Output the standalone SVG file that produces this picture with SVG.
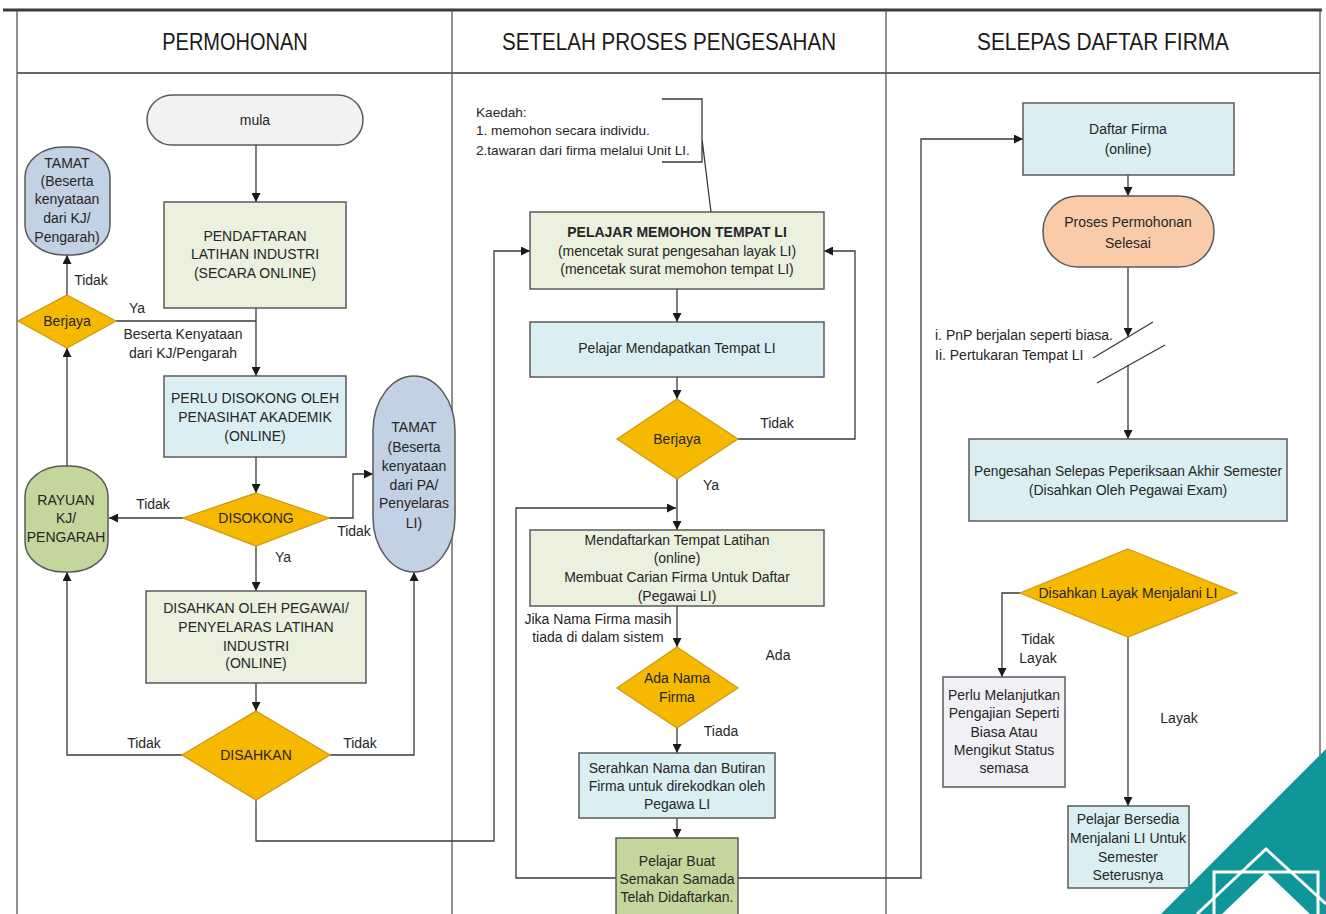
<svg xmlns="http://www.w3.org/2000/svg" width="1326" height="914" viewBox="0 0 1326 914">
<style>
.t{font-family:"Liberation Sans",Arial,sans-serif;font-size:14px;fill:#262626;text-anchor:middle}
.s{font-size:13.6px}
.lft{text-anchor:start}
.b{font-weight:bold}
.h{font-family:"Liberation Sans",Arial,sans-serif;font-size:20px;fill:#1a1a1a;text-anchor:middle}
.c{fill:none;stroke:#3a3a3a;stroke-width:1.3}
.ca{fill:none;stroke:#3a3a3a;stroke-width:1.3;marker-end:url(#ar)}
.bx{stroke:#5a5a5a;stroke-width:1.5}
.g1{fill:#ebf1de}
.bl{fill:#daeef3}
.tm{fill:#c2d1e3}
.gr{fill:#c3d69b}
.dm{fill:#f7b800;stroke:#c99a10;stroke-width:1.2}
.frame{stroke:#555;stroke-width:1.3;fill:none}
</style>
<defs>
<marker id="ar" viewBox="0 0 10 10" refX="10" refY="5" markerWidth="9" markerHeight="9" markerUnits="userSpaceOnUse" orient="auto">
<path d="M0,0 L10,5 L0,10 z" fill="#1a1a1a"/>
</marker>
</defs>
<rect width="1326" height="914" fill="#ffffff"/>
<g id="frame">
<line x1="3" y1="10" x2="1322" y2="10" stroke="#3a3a3a" stroke-width="3"/>
<line x1="17" y1="73" x2="1320" y2="73" stroke="#666" stroke-width="2"/>
<line class="frame" x1="17" y1="10" x2="17" y2="914"/>
<line class="frame" x1="452" y1="10" x2="452" y2="914"/>
<line class="frame" x1="886" y1="10" x2="886" y2="914"/>
<line class="frame" x1="1320" y1="10" x2="1320" y2="914"/>
<text class="h" transform="translate(235,50) scale(1,1.2)">PERMOHONAN</text>
<text class="h" transform="translate(669,50) scale(1,1.2)" textLength="334" lengthAdjust="spacingAndGlyphs">SETELAH PROSES PENGESAHAN</text>
<text class="h" transform="translate(1103,50) scale(1,1.2)" textLength="252" lengthAdjust="spacingAndGlyphs">SELEPAS DAFTAR FIRMA</text>
</g>
<g id="connectors">
<path class="ca" d="M256,145 V202"/>
<path class="ca" d="M256,308 V376"/>
<path class="c" d="M116,321 H256"/>
<path class="ca" d="M67,295 V255"/>
<path class="ca" d="M256,457 V493"/>
<path class="ca" d="M183,518 H109"/>
<path class="ca" d="M329,518 H353 V474 H373"/>
<path class="ca" d="M256,546 V591"/>
<path class="ca" d="M67,466 V348"/>
<path class="ca" d="M256,683 V711"/>
<path class="ca" d="M182,755 H67 V572"/>
<path class="ca" d="M330,755 H414 V572"/>
<path class="ca" d="M256,800 V841 H494 V251 H530"/>
<path class="c" d="M662,99 H702 V162 H662 M702,139 L711,212"/>
<path class="ca" d="M677,289 V322"/>
<path class="ca" d="M677,377 V399"/>
<path class="ca" d="M738,439 H855 V251 H824"/>
<path class="ca" d="M677,479 V530"/>
<path class="ca" d="M677,606 V647"/>
<path class="ca" d="M677,728 V753"/>
<path class="ca" d="M677,818 V838"/>
<path class="ca" d="M616,878 H516 V508 H676"/>
<path class="ca" d="M738,878 H921 V139 H1023"/>
<path class="ca" d="M1128,175 V196"/>
<path class="ca" d="M1128,267 V337"/>
<path class="c" d="M1093,358 L1153,322 M1097,383 L1165,345"/>
<path class="ca" d="M1128,365 V439"/>
<path class="ca" d="M1020,593 H1002 V677"/>
<path class="ca" d="M1128,637 V806"/>
</g>
<g id="mula">
<rect class="bx" x="147" y="95" width="216" height="50" rx="25" fill="#f2f2f2"/>
<text class="t" x="255" y="125">mula</text>
</g>
<g id="pendaftaran">
<rect class="bx g1" x="164" y="202" width="182" height="106"/>
<text class="t"><tspan x="255" y="241">PENDAFTARAN</tspan><tspan x="255" y="259">LATIHAN INDUSTRI</tspan><tspan x="255" y="278">(SECARA ONLINE)</tspan></text>
</g>
<g id="tamat-kj">
<rect class="bx tm" x="25" y="147" width="85" height="108" rx="38" ry="30"/>
<text class="t"><tspan x="67" y="168">TAMAT</tspan><tspan x="67" y="186">(Beserta</tspan><tspan x="67" y="204">kenyataan</tspan><tspan x="67" y="223">dari KJ/</tspan><tspan x="67" y="242">Pengarah)</tspan></text>
</g>
<g id="berjaya1">
<polygon class="dm" points="67,295 116,321 67,348 18,321"/>
<text class="t" x="67" y="326">Berjaya</text>
</g>
<g id="perlu-disokong">
<rect class="bx bl" x="164" y="376" width="182" height="81"/>
<text class="t"><tspan x="255" y="403">PERLU DISOKONG OLEH</tspan><tspan x="255" y="422">PENASIHAT AKADEMIK</tspan><tspan x="255" y="441">(ONLINE)</tspan></text>
</g>
<g id="disokong">
<polygon class="dm" points="256,493 329,518 256,546 183,518"/>
<text class="t" x="256" y="523">DISOKONG</text>
</g>
<g id="rayuan">
<rect class="bx gr" x="25" y="466" width="83" height="106" rx="38" ry="30"/>
<text class="t"><tspan x="66" y="505">RAYUAN</tspan><tspan x="66" y="523">KJ/</tspan><tspan x="66" y="542">PENGARAH</tspan></text>
</g>
<g id="tamat-pa">
<rect class="bx tm" x="373" y="376" width="82" height="196" rx="41" ry="55"/>
<text class="t"><tspan x="414" y="432">TAMAT</tspan><tspan x="414" y="452">(Beserta</tspan><tspan x="414" y="471">kenyataan</tspan><tspan x="414" y="490">dari PA/</tspan><tspan x="414" y="508">Penyelaras</tspan><tspan x="414" y="528">LI)</tspan></text>
</g>
<g id="disahkan-oleh">
<rect class="bx g1" x="146" y="591" width="220" height="92"/>
<text class="t"><tspan x="256" y="613">DISAHKAN OLEH PEGAWAI/</tspan><tspan x="256" y="632">PENYELARAS LATIHAN</tspan><tspan x="256" y="651">INDUSTRI</tspan><tspan x="256" y="668">(ONLINE)</tspan></text>
</g>
<g id="disahkan">
<polygon class="dm" points="256,711 330,755 256,800 182,755"/>
<text class="t" x="256" y="760">DISAHKAN</text>
</g>
<g id="labels-left">
<text class="t" x="91" y="285">Tidak</text>
<text class="t" x="137" y="313">Ya</text>
<text class="t"><tspan x="183" y="339">Beserta Kenyataan</tspan><tspan x="183" y="358">dari KJ/Pengarah</tspan></text>
<text class="t" x="153" y="509">Tidak</text>
<text class="t" x="354" y="536">Tidak</text>
<text class="t" x="283" y="562">Ya</text>
<text class="t" x="144" y="748">Tidak</text>
<text class="t" x="360" y="748">Tidak</text>
</g>
<g id="kaedah">
<text class="t s lft"><tspan x="476" y="117">Kaedah:</tspan><tspan x="476" y="135">1. memohon secara individu.</tspan><tspan x="476" y="155">2.tawaran dari firma melalui Unit LI.</tspan></text>
</g>
<g id="pelajar-memohon">
<rect class="bx g1" x="530" y="212" width="294" height="77"/>
<text class="t"><tspan class="b" x="677" y="237">PELAJAR MEMOHON TEMPAT LI</tspan><tspan x="677" y="256">(mencetak surat pengesahan layak LI)</tspan><tspan x="677" y="274">(mencetak surat memohon tempat LI)</tspan></text>
</g>
<g id="pelajar-mendapatkan">
<rect class="bx bl" x="530" y="322" width="294" height="55"/>
<text class="t" x="677" y="353">Pelajar Mendapatkan Tempat LI</text>
</g>
<g id="berjaya2">
<polygon class="dm" points="677,399 738,439 677,479 617,439"/>
<text class="t" x="677" y="444">Berjaya</text>
</g>
<g id="mendaftarkan">
<rect class="bx g1" x="530" y="530" width="294" height="76"/>
<text class="t"><tspan x="677" y="545">Mendaftarkan Tempat Latihan</tspan><tspan x="677" y="563">(online)</tspan><tspan x="677" y="582">Membuat Carian Firma Untuk Daftar</tspan><tspan x="677" y="601">(Pegawai LI)</tspan></text>
</g>
<g id="ada-nama">
<polygon class="dm" points="677,647 738,688 677,728 617,688"/>
<text class="t"><tspan x="677" y="683">Ada Nama</tspan><tspan x="677" y="702">Firma</tspan></text>
</g>
<g id="serahkan">
<rect class="bx bl" x="579" y="753" width="196" height="65"/>
<text class="t"><tspan x="677" y="773">Serahkan Nama dan Butiran</tspan><tspan x="677" y="791">Firma untuk direkodkan oleh</tspan><tspan x="677" y="809">Pegawa LI</tspan></text>
</g>
<g id="pelajar-buat">
<rect class="bx gr" x="616" y="838" width="122" height="90"/>
<text class="t"><tspan x="677" y="866">Pelajar Buat</tspan><tspan x="677" y="884">Semakan Samada</tspan><tspan x="677" y="902">Telah Didaftarkan.</tspan></text>
</g>
<g id="labels-mid">
<text class="t" x="777" y="428">Tidak</text>
<text class="t" x="711" y="490">Ya</text>
<text class="t"><tspan x="598" y="624">Jika Nama Firma masih</tspan><tspan x="598" y="642">tiada di dalam sistem</tspan></text>
<text class="t" x="778" y="660">Ada</text>
<text class="t" x="721" y="736">Tiada</text>
</g>
<g id="daftar-firma">
<rect class="bx bl" x="1023" y="103" width="211" height="72"/>
<text class="t"><tspan x="1128" y="134">Daftar Firma</tspan><tspan x="1128" y="154">(online)</tspan></text>
</g>
<g id="proses-permohonan">
<rect class="bx" x="1043" y="196" width="171" height="71" rx="35" fill="#f9cba8"/>
<text class="t"><tspan x="1128" y="227">Proses Permohonan</tspan><tspan x="1128" y="248">Selesai</tspan></text>
</g>
<g id="note-pnp">
<text class="t lft"><tspan x="935" y="340">i. PnP berjalan seperti biasa.</tspan><tspan x="935" y="360">Ii. Pertukaran Tempat LI</tspan></text>
</g>
<g id="pengesahan">
<rect class="bx bl" x="969" y="439" width="318" height="82"/>
<text class="t" textLength="308"><tspan x="1128" y="476" textLength="308" lengthAdjust="spacingAndGlyphs">Pengesahan Selepas Peperiksaan Akhir Semester</tspan></text>
<text class="t" x="1128" y="495">(Disahkan Oleh Pegawai Exam)</text>
</g>
<g id="disahkan-layak">
<polygon class="dm" points="1128,549 1237,593 1128,637 1020,593"/>
<text class="t" x="1128" y="598">Disahkan Layak Menjalani LI</text>
</g>
<g id="perlu-melanjutkan">
<rect class="bx" x="943" y="677" width="122" height="110" fill="#f1f0f5"/>
<text class="t"><tspan x="1004" y="700">Perlu Melanjutkan</tspan><tspan x="1004" y="718">Pengajian Seperti</tspan><tspan x="1004" y="737">Biasa Atau</tspan><tspan x="1004" y="755">Mengikut Status</tspan><tspan x="1004" y="773">semasa</tspan></text>
</g>
<g id="pelajar-bersedia">
<rect class="bx bl" x="1068" y="806" width="121" height="82"/>
<text class="t"><tspan x="1128" y="824">Pelajar Bersedia</tspan><tspan x="1128" y="843">Menjalani LI Untuk</tspan><tspan x="1128" y="862">Semester</tspan><tspan x="1128" y="880">Seterusnya</tspan></text>
</g>
<g id="labels-right">
<text class="t"><tspan x="1038" y="644">Tidak</tspan><tspan x="1038" y="663">Layak</tspan></text>
<text class="t" x="1179" y="723">Layak</text>
</g>
<g id="corner">
<polygon points="1161,914 1326,749 1326,914" fill="#0e9698"/>
<polyline points="1197,914 1266,849 1326,904" fill="none" stroke="#ffffff" stroke-width="3"/>
<polyline points="1214,914 1214,872 1318,872 1318,914" fill="none" stroke="#ffffff" stroke-width="3"/>
<polygon points="1266,872 1222,914 1310,914" fill="#ffffff"/>
</g>
</svg>
